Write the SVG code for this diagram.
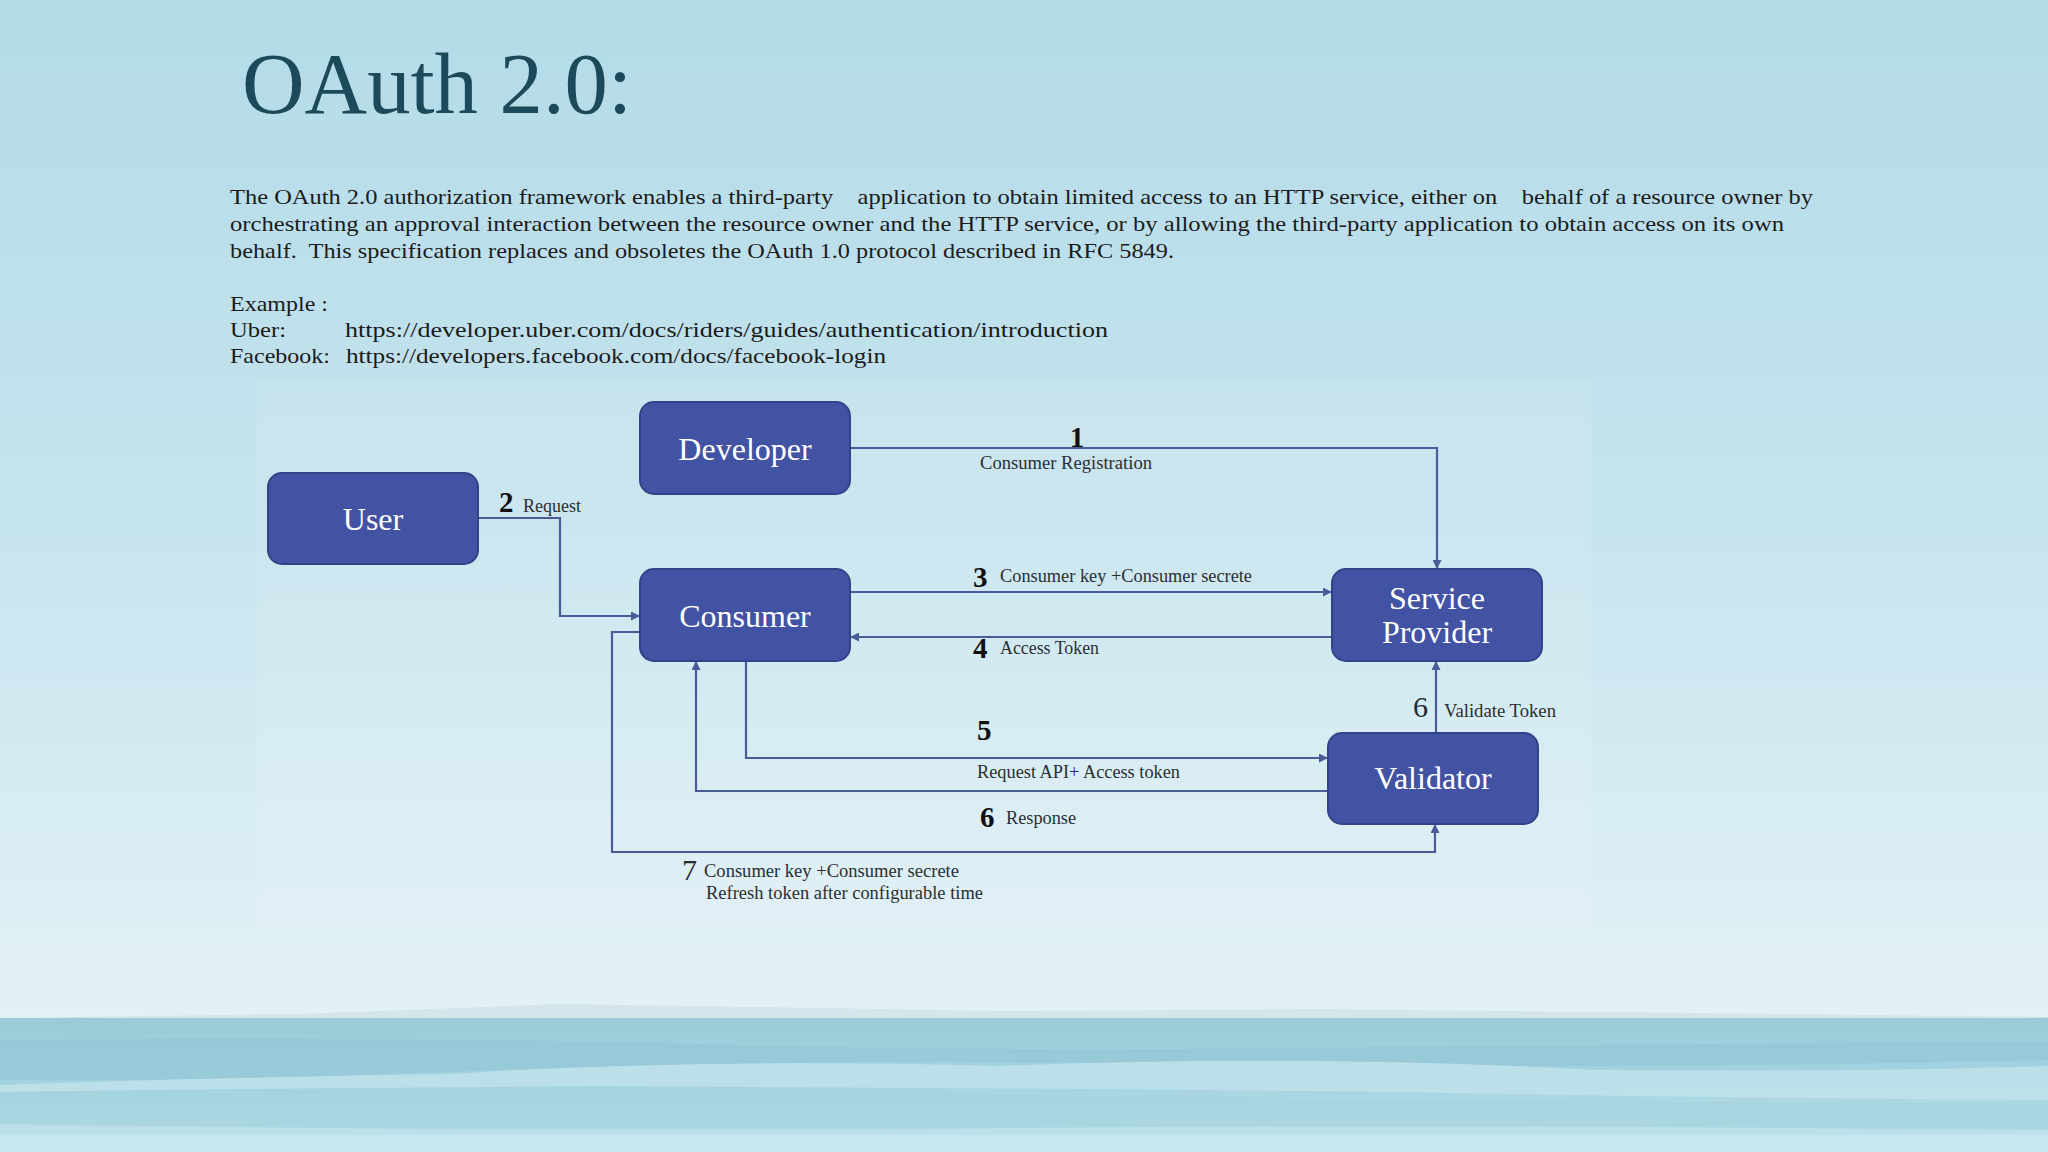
<svg xmlns="http://www.w3.org/2000/svg" width="2048" height="1152" viewBox="0 0 2048 1152">
  <defs>
    <linearGradient id="bg" x1="0" y1="0" x2="0" y2="1">
      <stop offset="0" stop-color="#b3dbe8"/>
      <stop offset="0.45" stop-color="#c6e4ee"/>
      <stop offset="0.88" stop-color="#e3f1f6"/>
      <stop offset="1" stop-color="#e3f1f6"/>
    </linearGradient>
    <linearGradient id="sea" x1="0" y1="0" x2="0" y2="1">
      <stop offset="0" stop-color="#9acbd9"/>
      <stop offset="0.5" stop-color="#a5d4e1"/>
      <stop offset="1" stop-color="#c6e5ed"/>
    </linearGradient>
    <marker id="arr" viewBox="0 0 10 10" refX="10" refY="5" markerWidth="10" markerHeight="9" markerUnits="userSpaceOnUse" orient="auto">
      <path d="M0,0 L10,5 L0,10 z" fill="#4a5c98"/>
    </marker>
    <style>
      .para { font-family: "Liberation Serif", "Times New Roman", serif; font-size: 21.5px; fill: #1b1b1b; white-space: pre; }
      .title { font-family: "Liberation Serif", Georgia, serif; font-size: 86px; fill: #1c4a5a; }
      .box { fill: #4253a3; stroke: #33438a; stroke-width: 2; }
      .nlabel { font-family: "Liberation Serif", Georgia, serif; font-size: 32px; fill: #ffffff; text-anchor: middle; }
      .conn { fill: none; stroke: #4a5c98; stroke-width: 2.2; }
      .lbl { font-family: "Liberation Serif", Georgia, serif; font-size: 18px; fill: #2a2f33; }
      .num { font-family: "Liberation Serif", Georgia, serif; font-weight: bold; font-size: 29px; fill: #111111; }
      .numr { font-family: "Liberation Serif", Georgia, serif; font-size: 30px; fill: #222a30; }
    </style>
  </defs>

  <!-- background -->
  <rect x="0" y="0" width="2048" height="1152" fill="url(#bg)"/>
  <g id="sea-waves">
    <path d="M0,1018 L300,1014 L560,1004 L820,1008 L1000,1011 L1320,1009 L1700,1013 L2048,1017 L2048,1152 L0,1152 z" fill="#cfe3e9" opacity="0.8"/>
    <rect x="0" y="1018" width="2048" height="134" fill="url(#sea)"/>
    <path d="M0,1040 Q400,1036 700,1044 T1300,1048 T2048,1042 L2048,1060 Q1600,1070 1200,1064 T500,1070 T0,1080 z" fill="#93c6d6" opacity="0.7"/>
    <path d="M0,1085 Q200,1078 450,1074 Q700,1058 1000,1066 Q1300,1054 1600,1070 Q1850,1072 2048,1066 L2048,1100 Q1700,1098 1400,1092 Q1000,1088 600,1086 Q300,1088 0,1092 z" fill="#bfe1ea" opacity="0.9"/>
    <path d="M0,1092 Q500,1084 1000,1094 T2048,1102 L2048,1130 Q1500,1124 1000,1128 T0,1124 z" fill="#a4d3e0" opacity="0.7"/>
    <rect x="0" y="1135" width="2048" height="17" fill="#c9e7ee" opacity="0.8"/>
  </g>

  <!-- title -->
  <text class="title" x="242" y="113" textLength="390" lengthAdjust="spacingAndGlyphs">OAuth 2.0:</text>

  <!-- paragraph -->
  <g id="description">
    <text class="para" x="230" y="204" textLength="1583" lengthAdjust="spacingAndGlyphs">The OAuth 2.0 authorization framework enables a third-party    application to obtain limited access to an HTTP service, either on    behalf of a resource owner by</text>
    <text class="para" x="230" y="231" textLength="1554" lengthAdjust="spacingAndGlyphs">orchestrating an approval interaction between the resource owner and the HTTP service, or by allowing the third-party application to obtain access on its own</text>
    <text class="para" x="230" y="258" textLength="944" lengthAdjust="spacingAndGlyphs">behalf.  This specification replaces and obsoletes the OAuth 1.0 protocol described in RFC 5849.</text>
    <text class="para" x="230" y="311" textLength="98" lengthAdjust="spacingAndGlyphs">Example :</text>
    <text class="para" x="230" y="337" textLength="56" lengthAdjust="spacingAndGlyphs">Uber:</text>
    <text class="para" x="345" y="337" textLength="763" lengthAdjust="spacingAndGlyphs">https://developer.uber.com/docs/riders/guides/authentication/introduction</text>
    <text class="para" x="230" y="363" textLength="100" lengthAdjust="spacingAndGlyphs">Facebook:</text>
    <text class="para" x="346" y="363" textLength="540" lengthAdjust="spacingAndGlyphs">https://developers.facebook.com/docs/facebook-login</text>
  </g>

  <!-- diagram backdrop -->
  <rect x="257" y="380" width="1334" height="547" fill="#ffffff" opacity="0.1"/>

  <!-- connectors -->
  <g id="connectors">
    <path class="conn" d="M850,448 H1437 V569" marker-end="url(#arr)"/>
    <path class="conn" d="M478,518 H560 V616 H640" marker-end="url(#arr)"/>
    <path class="conn" d="M850,592 H1332" marker-end="url(#arr)"/>
    <path class="conn" d="M1332,637 H850" marker-end="url(#arr)"/>
    <path class="conn" d="M746,661 V758 H1328" marker-end="url(#arr)"/>
    <path class="conn" d="M1328,791 H696 V661" marker-end="url(#arr)"/>
    <path class="conn" d="M1436,733 V661" marker-end="url(#arr)"/>
    <path class="conn" d="M640,632 H612 V852 H1435 V824" marker-end="url(#arr)"/>
  </g>

  <!-- connector labels -->
  <g id="connector-labels">
    <text class="num" x="1077" y="447" text-anchor="middle" font-size="25">1</text>
    <text class="lbl" x="980" y="469" textLength="172" lengthAdjust="spacingAndGlyphs">Consumer Registration</text>
    <text class="num" x="499" y="512" font-size="22">2</text>
    <text class="lbl" x="523" y="512" textLength="58" lengthAdjust="spacingAndGlyphs">Request</text>
    <text class="num" x="973" y="587">3</text>
    <text class="lbl" x="1000" y="582" textLength="252" lengthAdjust="spacingAndGlyphs">Consumer key +Consumer secrete</text>
    <text class="num" x="973" y="658">4</text>
    <text class="lbl" x="1000" y="654" textLength="99" lengthAdjust="spacingAndGlyphs">Access Token</text>
    <text class="num" x="977" y="740">5</text>
    <text class="lbl" x="977" y="778" textLength="203" lengthAdjust="spacingAndGlyphs">Request API+ Access token</text>
    <text class="num" x="980" y="827">6</text>
    <text class="lbl" x="1006" y="824" textLength="70" lengthAdjust="spacingAndGlyphs">Response</text>
    <text class="numr" x="1413" y="717">6</text>
    <text class="lbl" x="1444" y="717" textLength="112" lengthAdjust="spacingAndGlyphs">Validate Token</text>
    <text class="numr" x="682" y="880">7</text>
    <text class="lbl" x="704" y="877" textLength="255" lengthAdjust="spacingAndGlyphs">Consumer key +Consumer secrete</text>
    <text class="lbl" x="706" y="899" textLength="277" lengthAdjust="spacingAndGlyphs">Refresh token after configurable time</text>
  </g>

  <!-- nodes -->
  <g id="user">
    <rect class="box" x="268" y="473" width="210" height="91" rx="14"/>
    <text class="nlabel" x="373" y="530">User</text>
  </g>
  <g id="developer">
    <rect class="box" x="640" y="402" width="210" height="92" rx="14"/>
    <text class="nlabel" x="745" y="460">Developer</text>
  </g>
  <g id="consumer">
    <rect class="box" x="640" y="569" width="210" height="92" rx="14"/>
    <text class="nlabel" x="745" y="627">Consumer</text>
  </g>
  <g id="service-provider">
    <rect class="box" x="1332" y="569" width="210" height="92" rx="14"/>
    <text class="nlabel" x="1437" y="609">Service</text>
    <text class="nlabel" x="1437" y="643">Provider</text>
  </g>
  <g id="validator">
    <rect class="box" x="1328" y="733" width="210" height="91" rx="14"/>
    <text class="nlabel" x="1433" y="789">Validator</text>
  </g>
</svg>
